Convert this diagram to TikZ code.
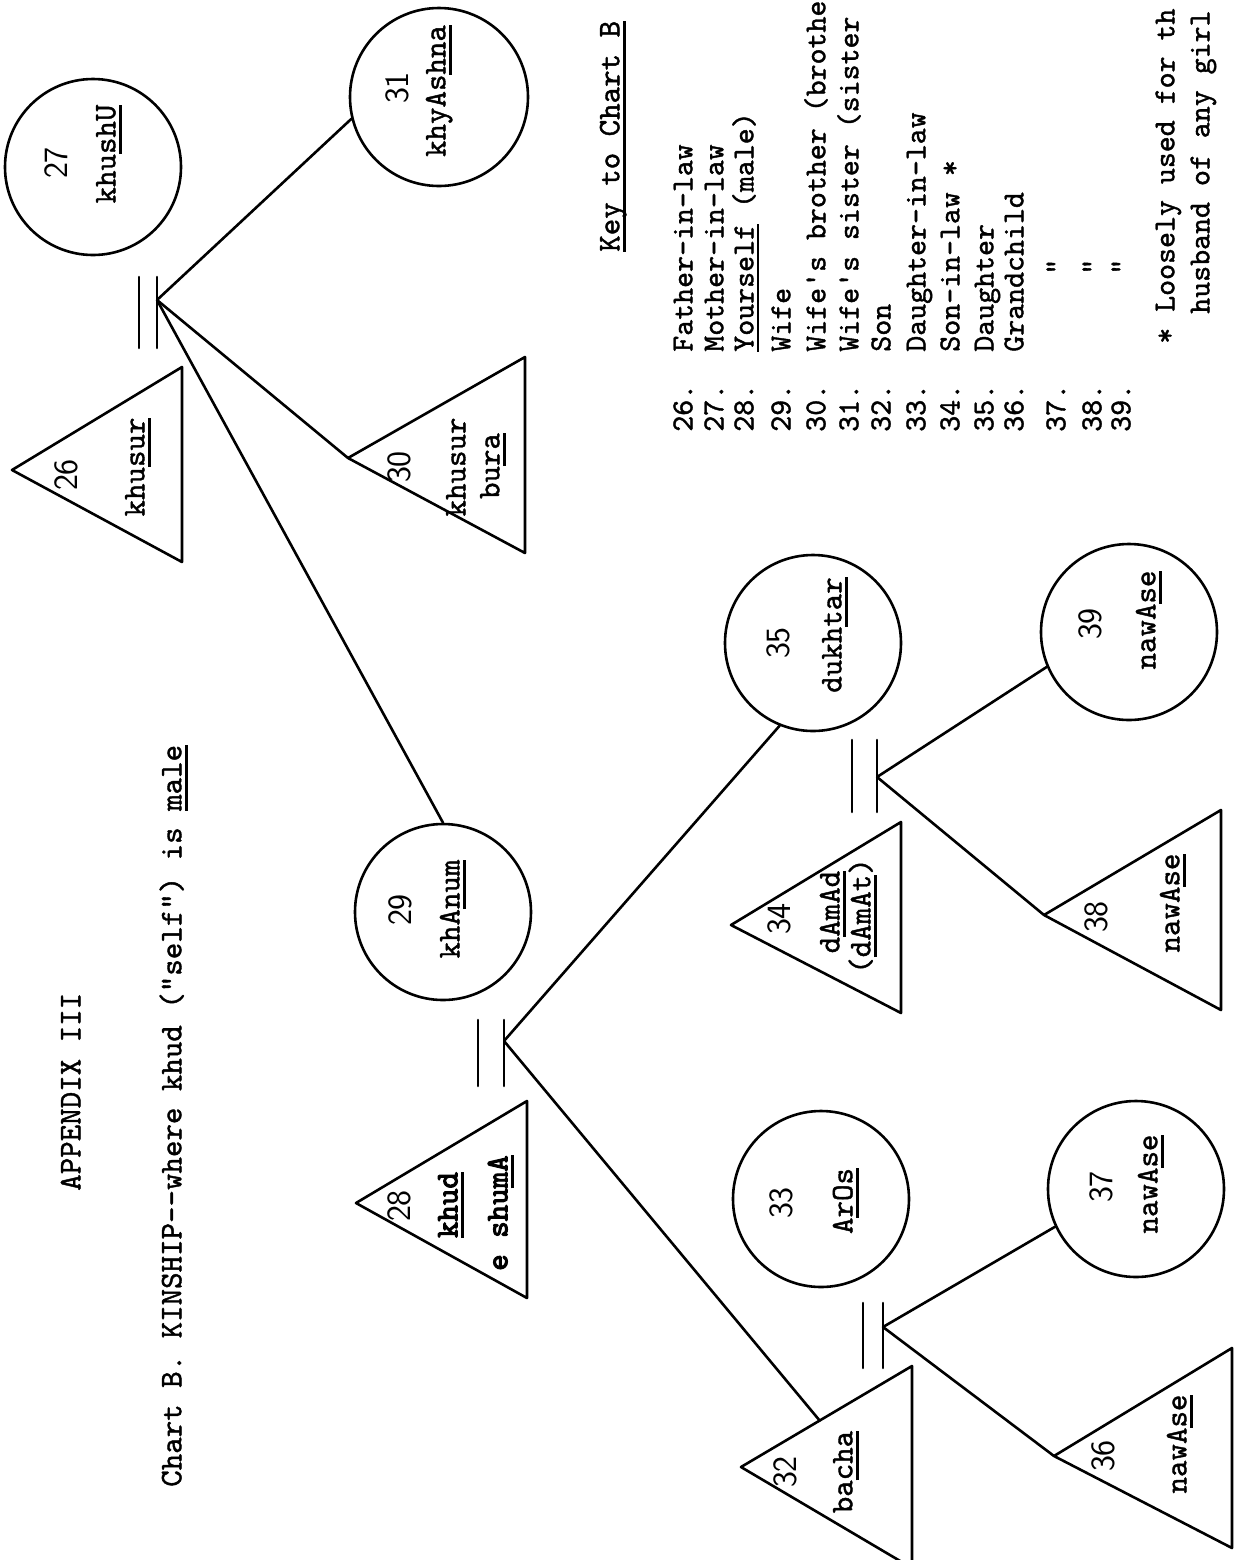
\documentclass[tikz,border=0pt]{standalone}
\usepackage{fontspec}
\usetikzlibrary{calc}
% inked typewriter faces
\newfontfamily\typew{lmmono10-regular.otf}[FakeBold=1.3]
\newfontfamily\typewheavy{lmmono10-regular.otf}[FakeBold=3.5]
% typed underline: a rule the width of the text, below the baseline
\newcommand\uln[1]{\setbox0\hbox{#1}\rlap{\rule[-0.2em]{\wd0}{0.085em}}\box0}
\begin{document}
\begin{tikzpicture}[x=0.5pt,y=-0.5pt,
  line width=1.3pt, line join=round, line cap=round,
  female/.style={draw, circle, inner sep=0pt, minimum size=#1},
  female/.default=88pt,
  typedtext/.style={font=\typew\fontsize{15.7}{18}\selectfont, rotate=90, inner sep=0pt},
  kinterm/.style={typedtext, anchor=mid},
  headtext/.style={typedtext, anchor=mid west},
  keytext/.style={font=\typew\fontsize{15.2}{18}\selectfont, rotate=90, inner sep=0pt, anchor=mid west},
  hand/.style={font=\sffamily\fontsize{17}{17}\selectfont, rotate=90, inner sep=0pt, anchor=center}]

\fill[white] (0,0) rectangle (1234,1560);
\useasboundingbox (0,0) rectangle (1234,1560);
\clip (0,0) rectangle (1234,1560);

% ---------------- females (circles) ----------------
\node[female] (c27) at (93,167) {};
\node[female=89pt] (c31) at (439,97) {};
\node[female] (c29) at (443,912) {};
\node[female] (c35) at (813,643) {};
\node[female] (c39) at (1129,632) {};
\node[female] (c33) at (821,1199) {};
\node[female] (c37) at (1136,1189) {};

% ---------------- males (triangles) ----------------
\coordinate (t26a) at (12,470);   \coordinate (t26u) at (182,367);  \coordinate (t26l) at (182,562);
\coordinate (t30a) at (348,458);  \coordinate (t30u) at (525,357);  \coordinate (t30l) at (525,553);
\coordinate (t28a) at (356,1203); \coordinate (t28u) at (527,1101); \coordinate (t28l) at (527,1298);
\coordinate (t34a) at (731,925);  \coordinate (t34u) at (901,822);  \coordinate (t34l) at (901,1013);
\coordinate (t38a) at (1044,915); \coordinate (t38u) at (1221,810); \coordinate (t38l) at (1221,1010);
\coordinate (t32a) at (741,1467); \coordinate (t32u) at (912,1366); \coordinate (t32l) at (912,1568);
\coordinate (t36a) at (1054,1456);\coordinate (t36u) at (1232,1348);\coordinate (t36l) at (1232,1548);
\foreach \t in {t26,t30,t28,t34,t38,t32,t36}
  \draw (\t a) -- (\t u) -- (\t l) -- cycle;
\coordinate (t32s) at ($(t32a)!0.46!(t32u)$);

% ---------------- marriage bars ----------------
\draw (139,277) -- (139,348) (157,277) -- (157,348);
\coordinate (vtop) at (157,300);
\draw (478,1020) -- (478,1086) (504,1020) -- (504,1086);
\coordinate (vself) at (504,1041);
\draw (852,740) -- (852,812) (877,740) -- (877,812);
\coordinate (vdau) at (877,777);
\draw (863,1303) -- (863,1368) (883,1303) -- (883,1368);
\coordinate (vson) at (883,1327);

% ---------------- descent lines ----------------
\draw (vtop) -- (c31.194);
\draw (vtop) -- (t30a);
\draw (vtop) -- (c29.north);
\draw (vself) -- (c35.248);
\draw (vself) -- (t32s);
\draw (vdau) -- (c39.203);
\draw (vdau) -- (t38a);
\draw (vson) -- (c37.205);
\draw (vson) -- (t36a);

% ---------------- numbers in the symbols ----------------
\node[hand] (n27) at (56,163) {27};
\node[hand] (n31) at (397,88) {31};
\node[hand] (n26) at (66,475) {26};
\node[hand] (n30) at (399,467) {30};
\node[hand] (n29) at (400,910) {29};
\node[hand] (n28) at (399,1206) {28};
\node[hand] (n35) at (778,643) {35};
\node[hand] (n34) at (779,919) {34};
\node[hand] (n39) at (1090,624) {39};
\node[hand] (n38) at (1096,917) {38};
\node[hand] (n33) at (781,1203) {33};
\node[hand] (n37) at (1101,1187) {37};
\node[hand] (n32) at (785,1472) {32};
\node[hand] (n36) at (1103,1456) {36};

% ---------------- kin terms ----------------
\node[kinterm] (w27) at (111,154) {khu\uln{shU}};
\node[kinterm] (w31) at (441,91) {khyAs\uln{hna}};
\node[kinterm] (w26) at (140,467) {khu\uln{sur}};
\node[kinterm] (w30a) at (461,467) {khusur};
\node[kinterm] (w30b) at (495,466) {bu\uln{ra}};
\node[kinterm] (w29) at (455,909) {khA\uln{num}};
\node[kinterm, font=\typewheavy\fontsize{15.7}{18}\selectfont] (w28a) at (453,1205) {\uln{khud}};
\node[kinterm, font=\typewheavy\fontsize{15.7}{18}\selectfont] (w28b) at (503,1213) {e shu\uln{mA}};
\node[kinterm] (w35) at (837,635) {dukh\uln{tar}};
\node[kinterm] (w34a) at (835,912) {d\uln{AmAd}};
\node[kinterm] (w34b) at (866,916) {(\uln{dAmAt})};
\node[kinterm] (w39) at (1151,620) {nawA\uln{se}};
\node[kinterm] (w38) at (1175,903) {nawA\uln{se}};
\node[kinterm] (w33) at (848,1201) {A\uln{rOs}};
\node[kinterm] (w37) at (1153,1184) {nawA\uln{se}};
\node[kinterm] (w32) at (848,1472) {ba\uln{cha}};
\node[kinterm] (w36) at (1182,1444) {nawA\uln{se}};

% ---------------- headings ----------------
\node[headtext] (appx) at (76,1192) {APPENDIX III};
\node[headtext] (chart) at (177,1488) {Chart B. KINSHIP-{}-where khud ("self") is \uln{male}};
\node[headtext] (keyhead) at (615,253) {\uln{Key to Chart B}};

% ---------------- key ----------------
\foreach \n/\x/\txt in {
  26/688/Father-in-law,
  27/719/Mother-in-law,
  28/749/{\uln{Yourself}\ (male)},
  29/786/Wife,
  30/821/{Wife's brother (brothe},
  31/854/{Wife's sister (sister},
  32/886/Son,
  33/921/Daughter-in-law,
  34/955/{Son-in-law *},
  35/989/Daughter,
  36/1019/Grandchild,
  37/1061/{},
  38/1097/{},
  39/1126/{}}{
  \node[keytext] (k\n) at (\x,433) {\n.};
  \node[keytext] (kt\n) at (\x,353) {\txt};
}
\node[keytext] (d37) at (1061,276) {"};
\node[keytext] (d38) at (1097,276) {"};
\node[keytext] (d39) at (1126,276) {"};
\node[keytext] (fn1) at (1170,345) {* Loosely used for th};
\node[keytext] (fn2) at (1205,315) {husband of any girl};
\end{tikzpicture}
\end{document}
